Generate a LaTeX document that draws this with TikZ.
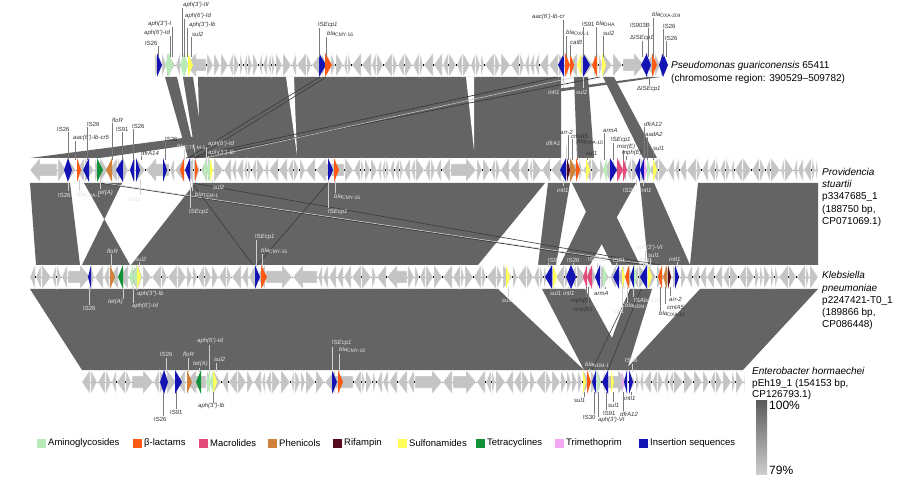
\documentclass[tikz,border=0pt]{standalone}
\usepackage{fontspec}
\setmainfont{Liberation Sans}
\definecolor{rib}{HTML}{646464}
\definecolor{ribdk}{HTML}{3A3A3A}
\definecolor{genec}{HTML}{C4C4C4}
\definecolor{amg}{HTML}{B8EBB8}
\definecolor{blac}{HTML}{FF5A14}
\definecolor{mac}{HTML}{E34B7A}
\definecolor{phe}{HTML}{D0813A}
\definecolor{rif}{HTML}{550A1E}
\definecolor{sul}{HTML}{FFFF5A}
\definecolor{tet}{HTML}{139139}
\definecolor{tmp}{HTML}{F2A9F2}
\definecolor{ins}{HTML}{1414B4}
\definecolor{labdk}{HTML}{333333}
\definecolor{lablt}{HTML}{E4E4E4}
\definecolor{leaddk}{HTML}{7A7A7A}
\definecolor{leadlt}{HTML}{CFCFCF}
\definecolor{gradtop}{HTML}{5A5A5A}
\definecolor{gradbot}{HTML}{CDCDCD}
\tikzset{
 genest/.style={fill=genec, draw=white, line width=0.25pt},
 gl/.style={anchor=west, inner sep=0pt, font=\fontsize{6}{7}\selectfont},
 lbdk/.style={text=labdk}, lblt/.style={text=lablt},
 lbdkl/.style={draw=leaddk, line width=0.5pt}, lbltl/.style={draw=leadlt, line width=0.5pt},
 sp/.style={anchor=base west, inner sep=0pt, font=\fontsize{10}{12}\selectfont},
 leg/.style={anchor=west, inner sep=0pt, font=\fontsize{9.5}{11}\selectfont},
 pct/.style={anchor=base west, inner sep=0pt, font=\fontsize{12}{14}\selectfont}
}
\newcount\gxa \newcount\gxb \newcount\gw \newcount\gend
\newcommand\gdraw[4]{%
 \pgfmathsetmacro\gwid{#2-#1}%
 \ifdim\gwid pt<11pt
   \ifnum#4=1 \filldraw[genest] (#1,#3)--(#2,#3+12)--(#1,#3+24)--cycle;%
   \else \filldraw[genest] (#2,#3)--(#1,#3+12)--(#2,#3+24)--cycle;\fi
 \else
   \ifnum#4=1 \filldraw[genest] (#1,#3+6)--(#2-10,#3+6)--(#2-10,#3)--(#2,#3+12)--(#2-10,#3+24)--(#2-10,#3+18)--(#1,#3+18)--cycle;%
   \else \filldraw[genest] (#2,#3+6)--(#1+10,#3+6)--(#1+10,#3)--(#1,#3+12)--(#1+10,#3+24)--(#1+10,#3+18)--(#2,#3+18)--cycle;\fi
 \fi}
\newcommand\gtrack[4]{%
 \pgfmathsetseed{#4}%
 \draw[gray, line width=0.4pt] (#1,#3+12)--(#2,#3+12);
 \gxa=#1\relax
 \gend=#2\relax \advance\gend by -3
 \loop
  \pgfmathrandominteger{\tw}{3}{9}%
  \pgfmathrandominteger{\tr}{0}{29}%
  \ifnum\tr>27 \pgfmathrandominteger{\tw}{16}{28}\fi
  \pgfmathrandominteger{\td}{0}{1}%
  \gw=\tw\relax
  \gxb=\gxa \advance\gxb by \gw
  \ifnum\gxb>#2 \gxb=#2\relax\fi
  \gdraw{\the\gxa}{\the\gxb}{#3}{\td}%
  \pgfmathrandominteger{\tb}{0}{2}%
  \ifnum\gxb<\gend \ifnum\tb=0 \fill[black] (\the\gxb-0.5,#3+10.8) rectangle (\the\gxb+2,#3+13.2);\fi\fi
  \advance\gxa by \gw \advance\gxa by 1
 \ifnum\gxa<#2 \repeat}
\newcommand\cgene[5]{%
 \ifx R#4 \fill[#5] (#1,#3)--(#2,#3+12)--(#1,#3+24)--cycle;%
 \else \fill[#5] (#2,#3)--(#1,#3+12)--(#2,#3+24)--cycle;\fi}
\newcommand\labA[6]{\draw[#1l] (#2,#4+3.5)--(#2,#5); \node[gl,#1] at (#3,#4) {#6};}
\newcommand\labB[6]{\draw[#1l] (#2,#5)--(#2,#4-3.5); \node[gl,#1] at (#3,#4) {#6};}
\newcommand\ecp{IS\textit{Ecp1}}
\newcommand\blaS[1]{\textit{bla}\textsubscript{#1}}
\begin{document}
\begin{tikzpicture}[x=1pt,y=-1pt]
\useasboundingbox (0,0) rectangle (900,481);
\fill[white] (0,0) rectangle (900,481);
% ---------- ribbons 1-2
\fill[rib] (648,77)--(660,77)--(100,158)--(30,158)--cycle;
\fill[rib] (165,77)--(177,77)--(196,158)--(188,158)--cycle;
\fill[rib] (183,77)--(193,77)--(205,158)--(196,158)--cycle;
\fill[rib] (198,77)--(561,77)--(561,158)--(200,158)--cycle;
\fill[white] (286,77)--(294,77)--(297,155)--cycle;
\fill[white] (466,77)--(474,77)--(474,150)--cycle;
\fill[rib] (574,77)--(588,77)--(594,158)--(577,158)--cycle;
\fill[rib] (603,77)--(614,77)--(657,158)--(643,158)--cycle;
\draw[ribdk, line width=0.7pt] (186,158)--(558,77);
\draw[ribdk, line width=0.7pt] (194,158)--(600,77);
\draw[white!60!rib, line width=0.6pt] (205,158)--(575,77);
\draw[ribdk, line width=0.6pt] (320,77)--(188,158);
\draw[ribdk, line width=0.6pt] (326,77)--(196,158);
% ---------- ribbons 2-3
\fill[rib] (30,183)--(70,183)--(80,265)--(36,265)--cycle;
\fill[rib] (84,183)--(122,183)--(82,265)--(130,265)--cycle;
\fill[rib] (195,183)--(545,183)--(478,265)--(131,265)--cycle;
\fill[rib] (548,183)--(570,183)--(556,265)--(538,265)--cycle;
\fill[rib] (572,183)--(600,183)--(640,265)--(612,265)--cycle;
\fill[rib] (600,183)--(636,183)--(590,265)--(560,265)--cycle;
\fill[rib] (640,183)--(654,183)--(690,265)--(648,265)--cycle;
\fill[rib] (698,183)--(818,183)--(818,265)--(690,265)--cycle;
\draw[ribdk, line width=0.8pt] (100,183)--(646,265);
\draw[white!70!rib, line width=0.6pt] (104,183)--(652,265);
\draw[ribdk, line width=0.6pt] (192,183)--(660,265);
\draw[ribdk, line width=0.6pt] (192,183)--(253,265);
\draw[ribdk, line width=0.6pt] (328,183)--(257,265);
% ---------- ribbons 3-4
\fill[rib] (30,289)--(498,289)--(584,370)--(82,370)--cycle;
\fill[rib] (542,289)--(585,289)--(612,338)--(630,289)--(652,289)--(627,370)--(584,370)--cycle;
\fill[rib] (700,289)--(818,289)--(743,370)--(625,370)--cycle;
\draw[ribdk, line width=0.6pt] (631,289)--(592,370);
\draw[ribdk, line width=0.6pt] (641,289)--(608,370);
% ---------- tracks
\gtrack{155}{668}{53}{11}
\gtrack{30}{818}{158}{22}
\gtrack{30}{818}{265}{33}
\gtrack{82}{745}{370}{44}
% track 1 coloured genes
\cgene{157}{162}{53}{R}{ins}\cgene{165}{169}{53}{L}{amg}\cgene{169}{173}{53}{R}{amg}
\cgene{180}{184}{53}{L}{amg}\cgene{184}{188}{53}{R}{amg}\cgene{188}{193}{53}{R}{sul}
\cgene{319}{326}{53}{R}{ins}\cgene{325}{332}{53}{R}{blac}
\cgene{558}{564}{53}{L}{ins}\cgene{565}{570}{53}{R}{blac}\cgene{570}{574}{53}{R}{blac}
\cgene{577}{581}{53}{L}{sul}\cgene{583}{590}{53}{R}{ins}\cgene{592}{597}{53}{L}{blac}
\cgene{602}{606}{53}{R}{sul}\cgene{641}{647}{53}{L}{ins}\cgene{646}{651}{53}{R}{ins}
\cgene{652}{657}{53}{R}{blac}\cgene{659}{663}{53}{L}{ins}\cgene{663}{668}{53}{R}{ins}
% track 2 coloured genes
\cgene{64}{68}{158}{L}{ins}\cgene{68}{72}{158}{R}{ins}\cgene{77}{81}{158}{R}{blac}
\cgene{83}{89}{158}{L}{ins}\cgene{97}{103}{158}{R}{tet}\cgene{106}{112}{158}{L}{phe}
\cgene{116}{123}{158}{L}{ins}\cgene{130}{134}{158}{L}{ins}\cgene{136}{140}{158}{R}{ins}
\cgene{163}{167}{158}{R}{ins}\cgene{180}{184}{158}{L}{blac}\cgene{185}{190}{158}{L}{ins}
\cgene{195}{198}{158}{R}{blac}\cgene{203}{206}{158}{L}{amg}\cgene{206}{210}{158}{L}{amg}
\cgene{210}{213}{158}{R}{sul}\cgene{328}{333}{158}{R}{ins}\cgene{334}{339}{158}{R}{blac}
\cgene{560}{566}{158}{L}{ins}\cgene{567}{570}{158}{R}{rif}\cgene{570}{576}{158}{R}{phe}
\cgene{576}{580}{158}{R}{blac}\cgene{586}{590}{158}{R}{sul}\cgene{603}{607}{158}{L}{amg}
\cgene{610}{617}{158}{R}{ins}\cgene{617}{623}{158}{R}{mac}\cgene{623}{627}{158}{R}{mac}
\cgene{635}{640}{158}{L}{ins}\cgene{640}{644}{158}{L}{ins}\cgene{644}{647}{158}{R}{tmp}
\cgene{647}{651}{158}{R}{amg}\cgene{653}{657}{158}{R}{sul}
% track 3 coloured genes
\cgene{88}{91}{265}{L}{ins}\cgene{110}{115}{265}{R}{phe}\cgene{118}{123}{265}{L}{tet}
\cgene{129}{133}{265}{L}{amg}\cgene{133}{137}{265}{L}{amg}\cgene{137}{141}{265}{R}{sul}
\cgene{255}{260}{265}{R}{ins}\cgene{261}{267}{265}{R}{blac}
\cgene{506}{510}{265}{R}{sul}\cgene{545}{552}{265}{L}{ins}\cgene{553}{557}{265}{R}{sul}
\cgene{566}{571}{265}{L}{ins}\cgene{571}{576}{265}{R}{ins}\cgene{583}{587}{265}{L}{mac}
\cgene{587}{592}{265}{L}{mac}\cgene{595}{600}{265}{L}{ins}\cgene{603}{607}{265}{R}{amg}
\cgene{613}{619}{265}{L}{ins}\cgene{622}{625}{265}{R}{sul}\cgene{625}{629}{265}{L}{blac}
\cgene{630}{634}{265}{L}{ins}\cgene{634}{637}{265}{R}{amg}\cgene{640}{647}{265}{L}{ins}
\cgene{648}{652}{265}{R}{sul}\cgene{658}{662}{265}{L}{blac}\cgene{663}{667}{265}{L}{phe}
\cgene{668}{671}{265}{R}{rif}\cgene{675}{679}{265}{R}{ins}
% track 4 coloured genes
\cgene{160}{164}{370}{L}{ins}\cgene{164}{168}{370}{R}{ins}\cgene{175}{182}{370}{R}{ins}
\cgene{187}{192}{370}{R}{phe}\cgene{196}{201}{370}{L}{tet}\cgene{206}{210}{370}{L}{amg}
\cgene{210}{213}{370}{L}{amg}\cgene{213}{217}{370}{R}{sul}\cgene{332}{337}{370}{R}{ins}
\cgene{338}{343}{370}{R}{blac}
\cgene{583}{586}{370}{R}{sul}\cgene{587}{591}{370}{R}{blac}\cgene{592}{596}{370}{L}{ins}
\cgene{597}{600}{370}{R}{amg}\cgene{602}{608}{370}{L}{ins}\cgene{611}{614}{370}{R}{sul}
\cgene{622}{624}{370}{R}{tmp}\cgene{624}{627}{370}{L}{ins}\cgene{629}{633}{370}{R}{ins}
% ---------- labels track 1
\labA{lbdk}{158}{145}{43}{56}{IS26}
\labA{lbdk}{170}{144}{33}{57}{\textit{aph(6')-Id}}
\labA{lbdk}{172}{148}{24}{57}{\textit{aph(3'')-I}}
\labA{lbdk}{182}{183}{5}{57}{\textit{aph(3')-III}}
\labA{lbdk}{184}{185}{16}{57}{\textit{aph(6')-Id}}
\labA{lbdk}{187}{189}{25}{57}{\textit{aph(3'')-Ib}}
\labA{lbdk}{191}{192}{34}{57}{\textit{sul2}}
\labA{lbdk}{319}{318}{25}{57}{\ecp}
\labA{lbdk}{326}{327}{34}{57}{\blaS{CMY-16}}
\labA{lbdk}{563}{532}{17}{57}{\textit{aac(6')-Ib-cr}}
\labA{lbdk}{566}{566}{33}{57}{\blaS{OXA-1}}
\labA{lbdk}{570}{570}{42}{57}{\textit{catB}}
\labA{lbdk}{583}{582}{24}{57}{IS91}
\labA{lbdk}{596}{596}{24}{57}{\blaS{DHA}}
\labA{lbdk}{603}{603}{33}{57}{\textit{sul2}}
\labA{lbdk}{642}{630}{38}{57}{Δ\ecp}
\labA{lbdk}{648}{630}{25}{57}{IS903B}
\labA{lbdk}{653}{652}{15}{57}{\blaS{OXA-204}}
\labA{lbdk}{663}{663}{26}{57}{IS26}
\labA{lbdk}{666}{665}{38}{57}{IS26}
\labB{lbdk}{649}{637}{89}{77}{Δ\ecp}
\labB{lblt}{563}{548}{92}{77}{\textit{intI1}}
\labB{lblt}{583}{576}{92}{77}{\textit{sul2}}
% ---------- labels track 2
\labA{lbdk}{68}{57}{129}{160}{IS26}
\labA{lbdk}{75}{73}{138}{160}{\textit{aac(6')-Ib-cr5}}
\labA{lbdk}{87}{87}{124}{160}{IS26}
\labA{lbdk}{112}{112}{120}{160}{\textit{floR}}
\labA{lbdk}{122}{116}{129}{160}{IS91}
\labA{lbdk}{133}{132}{126}{160}{IS26}
\labA{lbdk}{141}{141}{153}{160}{\textit{dfrA14}}
\labA{lbdk}{165}{165}{139}{160}{IS26}
\labA{lblt}{184}{177}{147}{160}{\blaS{CTX-M-3}}
\labA{lblt}{206}{208}{144}{160}{\textit{aph(6')-Id}}
\labA{lblt}{208}{208}{153}{160}{\textit{aph(3'')-Ib}}
\labA{lblt}{566}{546}{143}{160}{\textit{dfrA1}}
\labA{lbdk}{568}{560}{132}{160}{\textit{arr-2}}
\labA{lbdk}{572}{571}{136}{160}{\textit{cmlA5}}
\labA{lbdk}{577}{577}{142}{160}{\blaS{OXA-10}}
\labA{lbdk}{587}{586}{153}{160}{\textit{sul1}}
\labA{lbdk}{604}{603}{130}{160}{\textit{armA}}
\labA{lbdk}{613}{611}{140}{160}{\ecp}
\labA{lbdk}{623}{617}{147}{160}{\textit{msr(E)}}
\labA{lbdk}{626}{622}{153}{160}{\textit{mph(E)}}
\labA{lbdk}{644}{644}{124}{160}{\textit{dfrA12}}
\labA{lbdk}{647}{645}{134}{160}{\textit{aadA2}}
\labA{lbdk}{653}{653}{148}{160}{\textit{sul1}}
\labB{lblt}{68}{58}{195}{180}{IS26}
\labB{lblt}{79}{77}{195}{180}{\blaS{OXA-1}}
\labB{lblt}{100}{98}{193}{180}{\textit{tet(A)}}
\labB{lblt}{140}{129}{199}{180}{\textit{intI1}}
\labB{lblt}{192}{195}{195}{180}{\blaS{TEM-1}}
\labB{lblt}{190}{189}{212}{180}{\ecp}
\labB{lblt}{212}{213}{187}{180}{\textit{sul2}}
\labB{lblt}{328}{328}{212}{180}{\ecp}
\labB{lblt}{335}{334}{197}{180}{\blaS{CMY-16}}
\labB{lblt}{563}{557}{190}{180}{\textit{intI1}}
\labB{lblt}{636}{623}{190}{180}{IS26}
\labB{lblt}{643}{640}{190}{180}{\textit{intI1}}
% ---------- labels track 3
\labA{lblt}{111}{107}{251}{267}{\textit{floR}}
\labA{lblt}{139}{135}{259}{267}{\textit{sul2}}
\labA{lblt}{256}{255}{237}{267}{\ecp}
\labA{lblt}{262}{261}{251}{267}{\blaS{CMY-16}}
\labA{lblt}{548}{548}{260}{267}{IS91}
\labA{lblt}{573}{567}{260}{267}{IS26}
\labA{lblt}{597}{588}{260}{267}{\ecp}
\labA{lblt}{616}{613}{260}{267}{IS91}
\labA{lblt}{643}{640}{260}{267}{IS91}
\labA{lblt}{645}{636}{248}{267}{\textit{aph(3')-VI}}
\labA{lblt}{650}{648}{255}{267}{\textit{sul1}}
\labA{lblt}{677}{669}{259}{267}{\textit{intI1}}
\labB{lblt}{89}{83}{308}{287}{IS26}
\labB{lblt}{123}{108}{302}{287}{\textit{tet(A)}}
\labB{lblt}{136}{137}{294}{287}{\textit{aph(3'')-Ib}}
\labB{lblt}{133}{132}{306}{287}{\textit{aph(6')-Id}}
\labB{lblt}{508}{502}{300}{287}{\textit{sul1}}
\labB{lblt}{555}{550}{293}{287}{\textit{sul1}}
\labB{lblt}{568}{563}{293}{287}{\textit{intI1}}
\labB{lbdk}{586}{571}{301}{287}{\textit{mph(E)}}
\labB{lbdk}{588}{574}{310}{287}{\textit{msr(E)}}
\labB{lbdk}{605}{594}{293}{287}{\textit{armA}}
\labB{lblt}{622}{613}{311}{287}{\textit{sul1}}
\labB{lblt}{627}{625}{306}{287}{\blaS{NDM-1}}
\labB{lblt}{633}{634}{300}{287}{IS\textit{Aba}125}
\labB{lbdk}{670}{669}{299}{287}{\textit{arr-2}}
\labB{lbdk}{665}{667}{307}{287}{\textit{cmlA5}}
\labB{lbdk}{660}{659}{314}{287}{\blaS{OXA-10}}
% ---------- labels track 4
\labA{lblt}{166}{160}{354}{372}{IS26}
\labA{lblt}{188}{183}{354}{372}{\textit{floR}}
\labA{lblt}{199}{193}{364}{372}{\textit{tet(A)}}
\labA{lblt}{209}{197}{341}{372}{\textit{aph(6')-Id}}
\labA{lblt}{216}{214}{359}{372}{\textit{sul2}}
\labA{lblt}{332}{332}{343}{372}{\ecp}
\labA{lblt}{339}{339}{350}{372}{\blaS{CMY-16}}
\labA{lblt}{589}{585}{365}{372}{\blaS{NDM-1}}
\labA{lblt}{632}{625}{360}{372}{IS26}
\labB{lbdk}{163}{154}{419}{392}{IS26}
\labB{lbdk}{176}{170}{412}{392}{IS91}
\labB{lbdk}{213}{198}{406}{392}{\textit{aph(3'')-Ib}}
\labB{lbdk}{584}{574}{400}{392}{\textit{sul1}}
\labB{lbdk}{594}{583}{417}{392}{IS30}
\labB{lbdk}{598}{598}{420}{392}{\textit{aph(3')-VI}}
\labB{lbdk}{606}{603}{413}{392}{IS91}
\labB{lbdk}{613}{608}{405}{392}{\textit{sul1}}
\labB{lbdk}{623}{620}{414}{392}{\textit{dfrA12}}
\labB{lbdk}{631}{624}{398}{392}{\textit{intI1}}
% ---------- species labels
\node[sp] (sp1a) at (671,69) {\textit{Pseudomonas guariconensis} 65411};
\node[sp] (sp1b) at (671,81.3) {(chromosome region: 390529–509782)};
\node[sp] (sp2a) at (822,175.5) {\textit{Providencia}};
\node[sp] (sp2b) at (822,187.7) {\textit{stuartii}};
\node[sp] (sp2c) at (822,199.9) {p3347685\_1};
\node[sp] (sp2d) at (822,212.1) {(188750 bp,};
\node[sp] (sp2e) at (822,224.3) {CP071069.1)};
\node[sp] (sp3a) at (822,279) {\textit{Klebsiella}};
\node[sp] (sp3b) at (822,291.2) {\textit{pneumoniae}};
\node[sp] (sp3c) at (822,303.4) {p2247421-T0\_1};
\node[sp] (sp3d) at (822,315.6) {(189866 bp,};
\node[sp] (sp3e) at (822,327.8) {CP086448)};
\node[sp] (sp4a) at (752,374) {\textit{Enterobacter hormaechei}};
\node[sp] (sp4b) at (752,386) {pEh19\_1 (154153 bp,};
\node[sp] (sp4c) at (752,397.5) {CP126793.1)};
% ---------- identity bar
\shade[top color=gradtop, bottom color=gradbot] (756,400) rectangle (767,474);
\node[pct] (p100) at (769,409) {100\%};
\node[pct] (p79) at (769,474) {79\%};
% ---------- legend
\foreach \bx/\col/\txt [count=\i] in {37/amg/Aminoglycosides,133/blac/β-lactams,199/mac/Macrolides,268/phe/Phenicols,333/rif/Rifampin,398/sul/Sulfonamides,476/tet/Tetracyclines,555/tmp/Trimethoprim,639/ins/Insertion sequences}{
  \fill[\col] (\bx,438.5) rectangle (\bx+9,447.5);
  \node[leg] (leg\i) at (\bx+11,443) {\txt};
}
\end{tikzpicture}
\end{document}
